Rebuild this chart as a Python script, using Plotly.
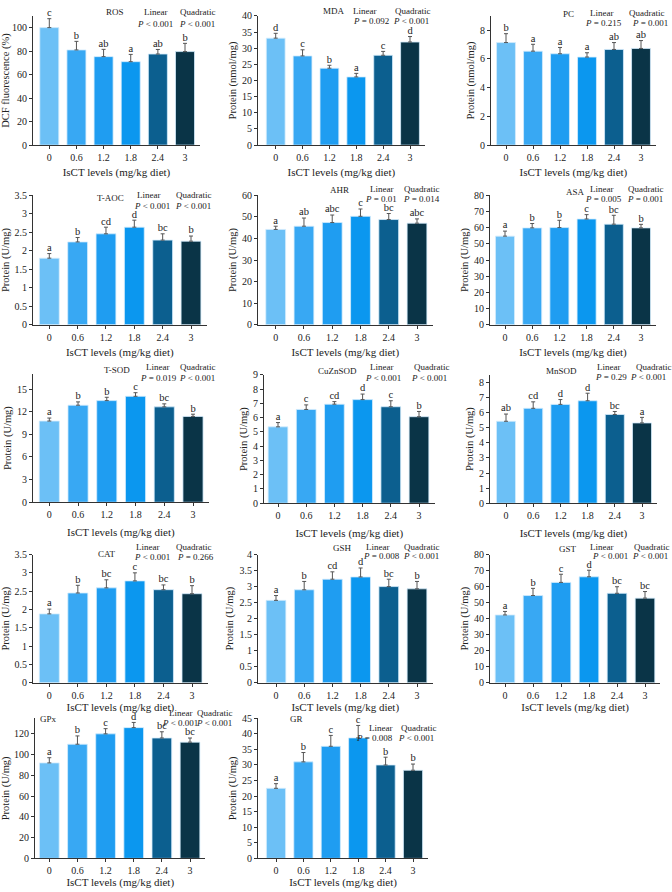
import plotly.graph_objects as go

doses = ["0", "0.6", "1.2", "1.8", "2.4", "3"]
xpos = [0, 1, 2, 3, 4, 5]
bar_colors = ["#6cc0f6", "#38a8f3", "#1f9df1", "#0b97ef", "#0c5f8f", "#0a3447"]

ros = [100, 81, 75.3, 71, 77.5, 79.6]
ros_err = [7.6, 7.3, 6.2, 6.2, 3.9, 7.0]
ros_let = ["c", "b", "ab", "a", "ab", "b"]

mda = [33.1, 27.6, 23.8, 21.1, 27.8, 31.9]
mda_err = [1.5, 1.9, 0.9, 1.1, 1.2, 1.7]
mda_let = ["d", "c", "b", "a", "c", "d"]

pc = [7.14, 6.54, 6.36, 6.13, 6.66, 6.73]
pc_err = [0.62, 0.48, 0.44, 0.3, 0.48, 0.55]
pc_let = ["b", "a", "a", "a", "ab", "ab"]

taoc = [1.80, 2.24, 2.46, 2.64, 2.29, 2.26]
taoc_err = [0.125, 0.12, 0.18, 0.19, 0.17, 0.14]
taoc_let = ["a", "b", "cd", "d", "bc", "b"]

ahr = [44.2, 45.7, 47.4, 50.3, 48.8, 47.1]
ahr_err = [1.5, 3.8, 3.5, 3.4, 2.8, 2.0]
ahr_let = ["a", "ab", "abc", "c", "bc", "abc"]

asa = [54.8, 59.9, 60.1, 65.4, 62.2, 59.9]
asa_err = [3.1, 2.7, 4.5, 2.7, 5.5, 2.2]
asa_let = ["a", "b", "b", "c", "bc", "b"]

tsod = [10.76, 12.86, 13.47, 14.04, 12.64, 11.37]
tsod_err = [0.4, 0.44, 0.44, 0.48, 0.4, 0.3]
tsod_let = ["a", "b", "b", "c", "bc", "b"]

cuznsod = [5.36, 6.58, 6.95, 7.27, 6.77, 6.07]
cuznsod_err = [0.3, 0.32, 0.18, 0.39, 0.42, 0.37]
cuznsod_let = ["a", "c", "cd", "d", "c", "b"]

mnsod = [5.43, 6.29, 6.55, 6.79, 5.88, 5.32]
mnsod_err = [0.48, 0.43, 0.32, 0.5, 0.2, 0.37]
mnsod_let = ["ab", "cd", "d", "d", "bc", "a"]

cat = [1.88, 2.45, 2.59, 2.78, 2.54, 2.43]
cat_err = [0.13, 0.21, 0.22, 0.22, 0.13, 0.22]
cat_let = ["a", "b", "bc", "c", "bc", "b"]

gsh = [2.57, 2.9, 3.23, 3.3, 3.0, 2.93]
gsh_err = [0.15, 0.26, 0.23, 0.28, 0.23, 0.23]
gsh_let = ["a", "b", "cd", "d", "bc", "b"]

gst = [42.3, 54.4, 62.6, 66.1, 55.8, 52.8]
gst_err = [2.2, 4.5, 5.1, 4.1, 4.1, 4.1]
gst_let = ["a", "b", "c", "d", "bc", "bc"]

gpx = [92, 110, 120, 126, 116, 112]
gpx_err = [5, 8, 5, 5, 6, 4]
gpx_let = ["a", "b", "c", "d", "bc", "bc"]

gr = [22.5, 31, 36, 38.7, 30, 28.3]
gr_err = [1.5, 3, 3.5, 4, 2.5, 2]
gr_let = ["a", "b", "c", "c", "b", "b"]

W, H = 672, 892
FONT = "Liberation Serif"

# name, ytitle, values, err, letters, yrange max, dtick, linear P, quad P
panels = [
    ("ROS", "DCF fluorescence (%)", ros, ros_err, ros_let, 110, 20, "<i>P</i> < 0.001", "<i>P</i> < 0.001"),
    ("MDA", "Protein (nmol/mg)", mda, mda_err, mda_let, 40, 5, "<i>P</i> = 0.092", "<i>P</i> < 0.001"),
    ("PC", "Protein (nmol/mg)", pc, pc_err, pc_let, 9, 2, "<i>P</i> = 0.215", "<i>P</i> = 0.001"),
    ("T-AOC", "Protein (U/mg)", taoc, taoc_err, taoc_let, 3.5, 0.5, "<i>P</i> < 0.001", "<i>P</i> < 0.001"),
    ("AHR", "Protein (U/mg)", ahr, ahr_err, ahr_let, 60, 10, "<i>P</i> = 0.01", "<i>P</i> = 0.014"),
    ("ASA", "Protein (U/mg)", asa, asa_err, asa_let, 80, 10, "<i>P</i> = 0.005", "<i>P</i> = 0.001"),
    ("T-SOD", "Protein (U/mg)", tsod, tsod_err, tsod_let, 17, 3, "<i>P</i> = 0.019", "<i>P</i> < 0.001"),
    ("CuZnSOD", "Protein (U/mg)", cuznsod, cuznsod_err, cuznsod_let, 9, 1, "<i>P</i> < 0.001", "<i>P</i> < 0.001"),
    ("MnSOD", "Protein (U/mg)", mnsod, mnsod_err, mnsod_let, 8.5, 1, "<i>P</i> = 0.29", "<i>P</i> < 0.001"),
    ("CAT", "Protein (U/mg)", cat, cat_err, cat_let, 3.5, 0.5, "<i>P</i> < 0.001", "<i>P</i> = 0.266"),
    ("GSH", "Protein (U/mg)", gsh, gsh_err, gsh_let, 4.0, 0.5, "<i>P</i> = 0.008", "<i>P</i> < 0.001"),
    ("GST", "Protein (U/mg)", gst, gst_err, gst_let, 80, 10, "<i>P</i> < 0.001", "<i>P</i> < 0.001"),
    ("GPx", "Protein (U/mg)", gpx, gpx_err, gpx_let, 135, 20, "<i>P</i> < 0.001", "<i>P</i> < 0.001"),
    ("GR", "Protein (U/mg)", gr, gr_err, gr_let, 45, 5, "<i>P</i> = 0.008", "<i>P</i> < 0.001"),
]

# geometry (pixels): left axis x, center of first bar, center of last bar, top, bottom, title standoff
geom = [
    (33, 49.3, 185, 10, 141, 6), (258, 275.7, 410, 10, 141, 6), (491, 506, 641, 10, 141, 6),
    (33, 49.3, 191, 192, 323, 6), (258, 275.7, 417, 192, 323, 6), (490, 505, 641, 192, 323, 6),
    (33, 49.3, 193, 373, 503, 9), (264, 278, 419, 374, 504, 9), (490, 506, 642, 374, 504, 9),
    (33, 49.3, 192, 556, 686, 1), (258, 276, 417, 556, 686, 1), (490, 505, 645, 556, 686, 1),
    (35, 49.3, 190, 722, 864, 0), (258, 276, 413, 722, 864, 0),
]
# annotation pixel positions: name(x,y), linear(x,y), linearP(x,y), quad(x,y), quadP(x,y)
ann_pos = [
    ((115, 6), (155, 6), (155, 18), (197, 6), (197, 18)),
    ((334, 5), (364, 5), (371, 15), (412, 5), (411, 15)),
    ((568, 8), (601, 7), (603, 17), (646, 7), (650, 17)),
    ((110, 195), (148, 192), (152, 203), (193, 192), (193, 203)),
    ((339, 187), (381, 186), (381, 196), (421, 186), (421, 196)),
    ((575, 189), (601, 186), (603, 196), (645, 186), (645, 196)),
    ((117, 369), (157, 366), (158, 377), (197, 366), (197, 377)),
    ((337, 370), (381, 366), (383, 377), (431, 366), (429, 377)),
    ((561, 370), (608, 366), (611, 376), (653, 366), (648, 376)),
    ((107, 555), (147, 548), (152, 559), (193, 548), (195, 559)),
    ((342, 549), (377, 548), (381, 558), (421, 548), (421, 558)),
    ((568, 550), (601, 548), (610, 558), (651, 548), (650, 558)),
    ((48, 723), (180, 717), (180, 727), (214, 717), (214, 727)),
    ((296, 723), (380, 732), (374, 742), (418, 732), (416, 742)),
]

fig = go.Figure()
layout = dict(width=W, height=H, margin=dict(l=0, r=0, t=0, b=0),
              paper_bgcolor="white", plot_bgcolor="white", showlegend=False,
              font=dict(family=FONT, size=10, color="#222"))
annotations = []

def px(x):
    return x / W

def py(y):
    return 1 - y / H

for i, (p, g, a) in enumerate(zip(panels, geom, ann_pos)):
    name, ytitle, vals, errs, lets, ymax, dtick, linp, quadp = p
    left, c0, c5, top, bottom, stand = g
    ppc = (c5 - c0) / 5
    x0 = -(c0 - left) / ppc
    right = c5 + 0.55 * ppc
    k = "" if i == 0 else str(i + 1)
    xa, ya = "x" + k, "y" + k
    fig.add_trace(go.Bar(
        x=xpos, y=vals, width=0.7, xaxis=xa, yaxis=ya,
        marker=dict(color=bar_colors, line=dict(color="#d4ecfc", width=0.8)),
        error_y=dict(type="data", symmetric=False, array=errs, arrayminus=[0] * 6,
                     color="#555", thickness=1, width=2),
        hoverinfo="skip"))
    fig.add_trace(go.Scatter(
        x=xpos, y=[v + e for v, e in zip(vals, errs)], text=lets, mode="text",
        textposition="top center", textfont=dict(family=FONT, size=10.5, color="#222"),
        xaxis=xa, yaxis=ya, hoverinfo="skip", cliponaxis=False))
    axis_common = dict(showline=True, linecolor="#333", linewidth=1, ticks="outside",
                       ticklen=3, tickcolor="#333", showgrid=False, zeroline=False,
                       tickfont=dict(family=FONT, size=10, color="#222"))
    layout["xaxis" + k] = dict(axis_common, domain=[px(left), px(right)], range=[x0, 5.55],
                               tickvals=xpos, ticktext=doses, anchor=ya,
                               title=dict(text="IsCT levels (mg/kg diet)", standoff=stand,
                                          font=dict(family=FONT, size=11)))
    layout["yaxis" + k] = dict(axis_common, domain=[py(bottom), py(top)], range=[0, ymax],
                               dtick=dtick, anchor=xa,
                               title=dict(text=ytitle, standoff=3,
                                          font=dict(family=FONT, size=10.5)))
    texts = [name, "Linear", linp, "Quadratic", quadp]
    for t, (ax_, ay_) in zip(texts, a):
        annotations.append(dict(text=t, x=px(ax_), y=py(ay_), xref="paper", yref="paper",
                                xanchor="center", yanchor="middle", showarrow=False,
                                font=dict(family=FONT, size=9, color="#222")))

layout["annotations"] = annotations
fig.update_layout(**layout)
fig.write_html("out.html", config={"displayModeBar": False},
               post_script="document.body.style.margin='0px';document.body.style.overflow='hidden';")
